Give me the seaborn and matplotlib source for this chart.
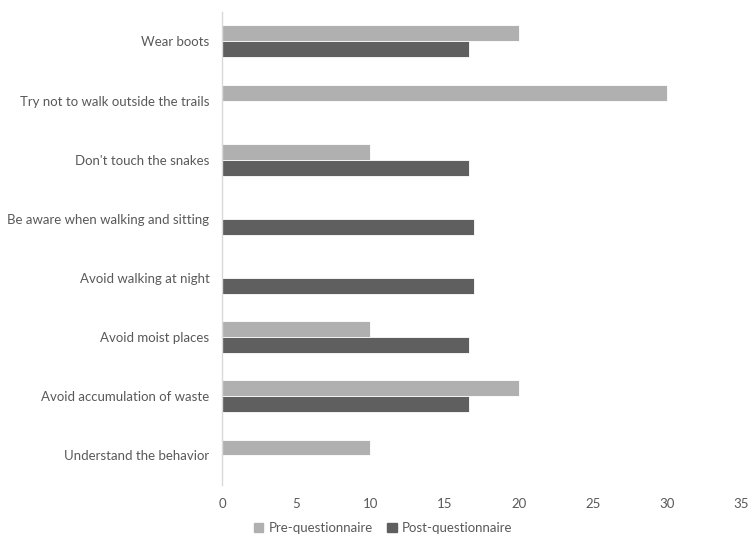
import pandas as pd
import seaborn as sns
import matplotlib.pyplot as plt

# Values
categories = [
    "Wear boots",
    "Try not to walk outside the trails",
    "Don't touch the snakes",
    "Be aware when walking and sitting",
    "Avoid walking at night",
    "Avoid moist places",
    "Avoid accumulation of waste",
    "Understand the behavior",
]
pre_values = [20, 30, 10, 0, 0, 10, 20, 10]
post_values = [16.67, 0, 16.67, 17, 17, 16.67, 16.67, 0]
series_names = ["Pre-questionnaire", "Post-questionnaire"]
x_ticks = [0, 5, 10, 15, 20, 25, 30, 35]

df = pd.DataFrame({
    "Measure": categories * 2,
    "Value": pre_values + post_values,
    "Series": [series_names[0]] * len(categories) + [series_names[1]] * len(categories),
})

sns.set_theme(style="white")
plt.rcParams["font.family"] = ["Lato", "DejaVu Sans"]
text_color = "#595959"

fig = plt.figure(figsize=(7.5, 5.36), dpi=100)
ax = fig.add_axes([0.296, 0.095, 0.692, 0.883])

sns.barplot(
    data=df, y="Measure", x="Value", hue="Series", order=categories,
    hue_order=series_names, palette=["#b0b0b0", "#5f5f5f"],
    orient="h", width=0.54, edgecolor="white", linewidth=0.6, ax=ax,
    legend=False,
)

ax.set_xlim(0, 35)
ax.set_ylim(7.5, -0.5)
ax.set_xticks(x_ticks)
ax.set_xticklabels([str(t) for t in x_ticks])
ax.set_xlabel("")
ax.set_ylabel("")
ax.tick_params(axis="both", length=0, colors=text_color, labelsize=9.5)
ax.tick_params(axis="x", pad=9)
ax.tick_params(axis="y", pad=9)

for side in ["top", "right", "bottom"]:
    ax.spines[side].set_visible(False)
ax.spines["left"].set_color("#d9d9d9")
ax.spines["left"].set_linewidth(1)

handles = [plt.Rectangle((0, 0), 1, 1, color=c) for c in ["#b0b0b0", "#5f5f5f"]]
fig.legend(
    handles, series_names, loc="lower center", bbox_to_anchor=(0.511, -0.018),
    ncol=2, frameon=False, fontsize=9.5, handlelength=0.7, handleheight=0.7,
    columnspacing=1.1, handletextpad=0.4, labelcolor=text_color,
)

fig.savefig("out.png", dpi=100)
